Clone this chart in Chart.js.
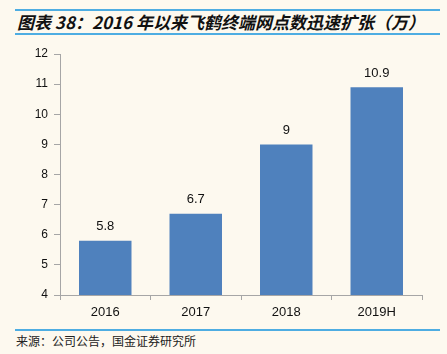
<!DOCTYPE html>
<html><head><meta charset="utf-8">
<script src="https://cdn.jsdelivr.net/npm/chart.js@4/dist/chart.umd.min.js"></script>
<style>
html,body{margin:0;padding:0;background:#FDF9EF;}
#wrap{position:relative;width:447px;height:354px;background:#FDF9EF;overflow:hidden;}
.line{position:absolute;left:15px;width:425px;height:2px;background:#4EADE2;}
#title{position:absolute;left:17px;top:11px;font:italic bold 17px "Noto Sans CJK SC","DejaVu Sans",sans-serif;color:#111;white-space:nowrap;line-height:22px;}
#src{position:absolute;left:16px;top:333px;font:12px "Noto Sans CJK SC",sans-serif;color:#222;white-space:nowrap;line-height:16px;}
#cv{position:absolute;left:0;top:0;}
</style></head>
<body><div id="wrap">
<div class="line" style="top:9px"></div>
<div id="title">图表 38：2016 年以来飞鹤终端网点数迅速扩张（万）</div>
<div class="line" style="top:33px"></div>
<div class="line" style="top:329px"></div>
<div id="src">来源：公司公告，国金证券研究所</div>
<canvas id="cv" width="447" height="354"></canvas>
</div>
<script>
const categories = ["2016", "2017", "2018", "2019H"];
const values = [5.8, 6.7, 9, 10.9];
const yTicks = [4, 5, 6, 7, 8, 9, 10, 11, 12];

const labelPlugin = {
  id: 'valLabels',
  afterDatasetsDraw(chart) {
    const ctx = chart.ctx;
    const meta = chart.getDatasetMeta(0);
    ctx.save();
    ctx.font = '13px "Liberation Sans", Arial, sans-serif';
    ctx.fillStyle = '#111';
    ctx.textAlign = 'center';
    ctx.textBaseline = 'middle';
    meta.data.forEach((bar, i) => {
      ctx.fillText(String(values[i]), bar.x, bar.y - 14);
    });
    ctx.restore();
  }
};

new Chart(document.getElementById('cv'), {
  type: 'bar',
  data: {
    labels: categories,
    datasets: [{
      data: values,
      backgroundColor: '#4F81BD',
      borderWidth: 0,
      barPercentage: 0.58,
      categoryPercentage: 1.0
    }]
  },
  options: {
    responsive: false,
    animation: false,
    devicePixelRatio: 1,
    layout: { padding: { left: 0, right: 25, top: 54, bottom: 0 } },
    plugins: { legend: { display: false }, title: { display: false }, tooltip: { enabled: false } },
    scales: {
      x: {
        offset: true,
        grid: { display: true, drawOnChartArea: false, offset: true, tickLength: 5, color: '#A6A6A6' },
        border: { display: true, color: '#A6A6A6', width: 1 },
        ticks: { font: { size: 13, family: '"Liberation Sans", Arial, sans-serif' }, color: '#111', padding: 5 },
        afterFit(s) { s.height = 59; }
      },
      y: {
        min: 4, max: 12,
        afterBuildTicks(s) { s.ticks = yTicks.map(v => ({ value: v })); },
        grid: { display: true, drawOnChartArea: false, tickLength: 6, color: '#A6A6A6' },
        border: { display: true, color: '#A6A6A6', width: 1 },
        ticks: { font: { size: 12, family: '"Liberation Sans", Arial, sans-serif' }, color: '#111', padding: 6 },
        afterFit(s) { s.width = 60; }
      }
    }
  },
  plugins: [labelPlugin]
});
</script>
</body></html>
